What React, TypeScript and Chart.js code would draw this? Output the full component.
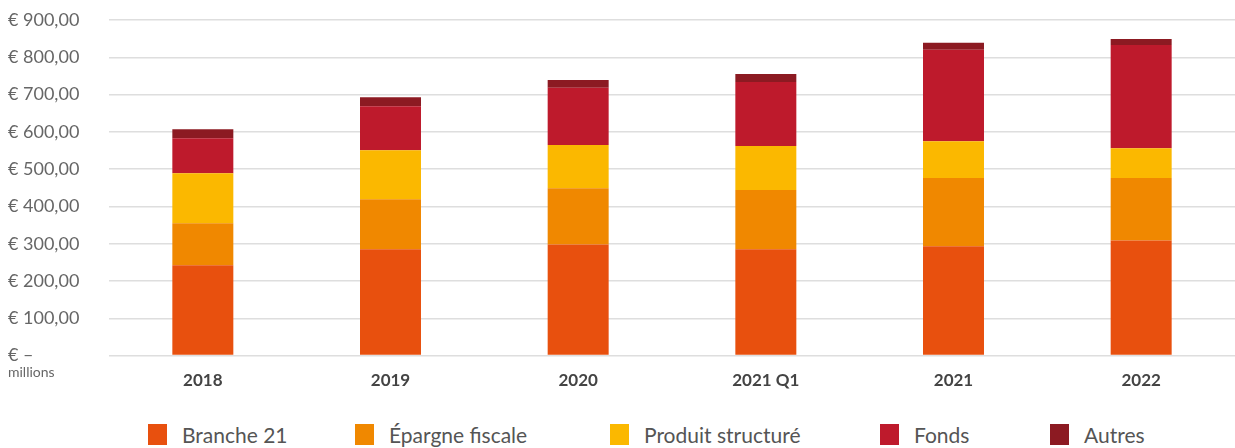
import React, { useEffect, useRef } from "react";
import { Chart, registerables } from "chart.js";

Chart.register(...registerables);

const categories = ["2018", "2019", "2020", "2021 Q1", "2021", "2022"];
const brancheValues = [242, 285, 298, 285, 293, 309];
const epargneValues = [113, 134, 151, 159, 183, 167];
const produitValues = [134, 132, 116, 118, 99, 80];
const fondsValues = [94, 118, 153, 172, 245, 277];
const autresValues = [24, 24, 21, 21, 19, 16];
const seriesNames = ["Branche 21", "Épargne fiscale", "Produit structuré", "Fonds", "Autres"];
const seriesColors = ["#E8500E", "#F08800", "#FBB800", "#BE1A2C", "#8C1A22"];

const FONT = "Lato, 'Noto Sans', sans-serif";
const legendLefts = [148, 355, 610, 880, 1050];

const millionsPlugin = {
  id: "millionsNote",
  afterDraw(chart: any) {
    const ctx = chart.ctx;
    const y0 = chart.scales.y.getPixelForValue(0);
    ctx.save();
    ctx.font = `14px ${FONT}`;
    ctx.fillStyle = "#666666";
    ctx.textAlign = "left";
    ctx.textBaseline = "middle";
    ctx.fillText("millions", 8, y0 + 17);
    ctx.restore();
  },
};

export default function App() {
  const ref = useRef<HTMLCanvasElement | null>(null);

  useEffect(() => {
    document.body.style.margin = "0";
    const values = [brancheValues, epargneValues, produitValues, fondsValues, autresValues];
    const chart = new Chart(ref.current as HTMLCanvasElement, {
      type: "bar",
      data: {
        labels: categories,
        datasets: values.map((v, i) => ({
          label: seriesNames[i],
          data: v,
          backgroundColor: seriesColors[i],
          barPercentage: 0.325,
          categoryPercentage: 1,
          borderWidth: 0,
        })),
      },
      options: {
        responsive: false,
        animation: false,
        layout: { padding: { left: 8, top: 20, right: 0, bottom: 22 } },
        plugins: {
          legend: { display: false },
          tooltip: { enabled: false },
        },
        scales: {
          x: {
            stacked: true,
            grid: { display: false },
            border: { display: false },
            ticks: {
              color: "#444444",
              font: { family: FONT, size: 17, weight: "bold" },
              padding: 7,
            },
          },
          y: {
            stacked: true,
            min: 0,
            max: 900,
            afterFit(scale: any) {
              scale.width = 101;
            },
            border: { display: false },
            grid: { color: "#dedede", lineWidth: 1.5, drawTicks: false },
            ticks: {
              stepSize: 100,
              crossAlign: "far",
              color: "#666666",
              font: { family: FONT, size: 18 },
              callback: (v: any) =>
                Number(v) === 0 ? "€ –" : "€ " + Number(v).toFixed(2).replace(".", ","),
            },
          },
        },
      },
      plugins: [millionsPlugin],
    });
    return () => chart.destroy();
  }, []);

  return (
    <div style={{ position: "relative", width: 1235, height: 448, fontFamily: FONT }}>
      <canvas ref={ref} width={1235} height={420} />
      {seriesNames.map((n, i) => (
        <div
          key={n}
          style={{
            position: "absolute",
            top: 424,
            left: legendLefts[i],
            display: "flex",
            alignItems: "center",
            whiteSpace: "nowrap",
          }}
        >
          <span
            style={{
              display: "inline-block",
              width: 19,
              height: 21,
              background: seriesColors[i],
              marginRight: 15,
            }}
          />
          <span style={{ fontSize: 21, color: "#555555", lineHeight: "21px" }}>{n}</span>
        </div>
      ))}
    </div>
  );
}
